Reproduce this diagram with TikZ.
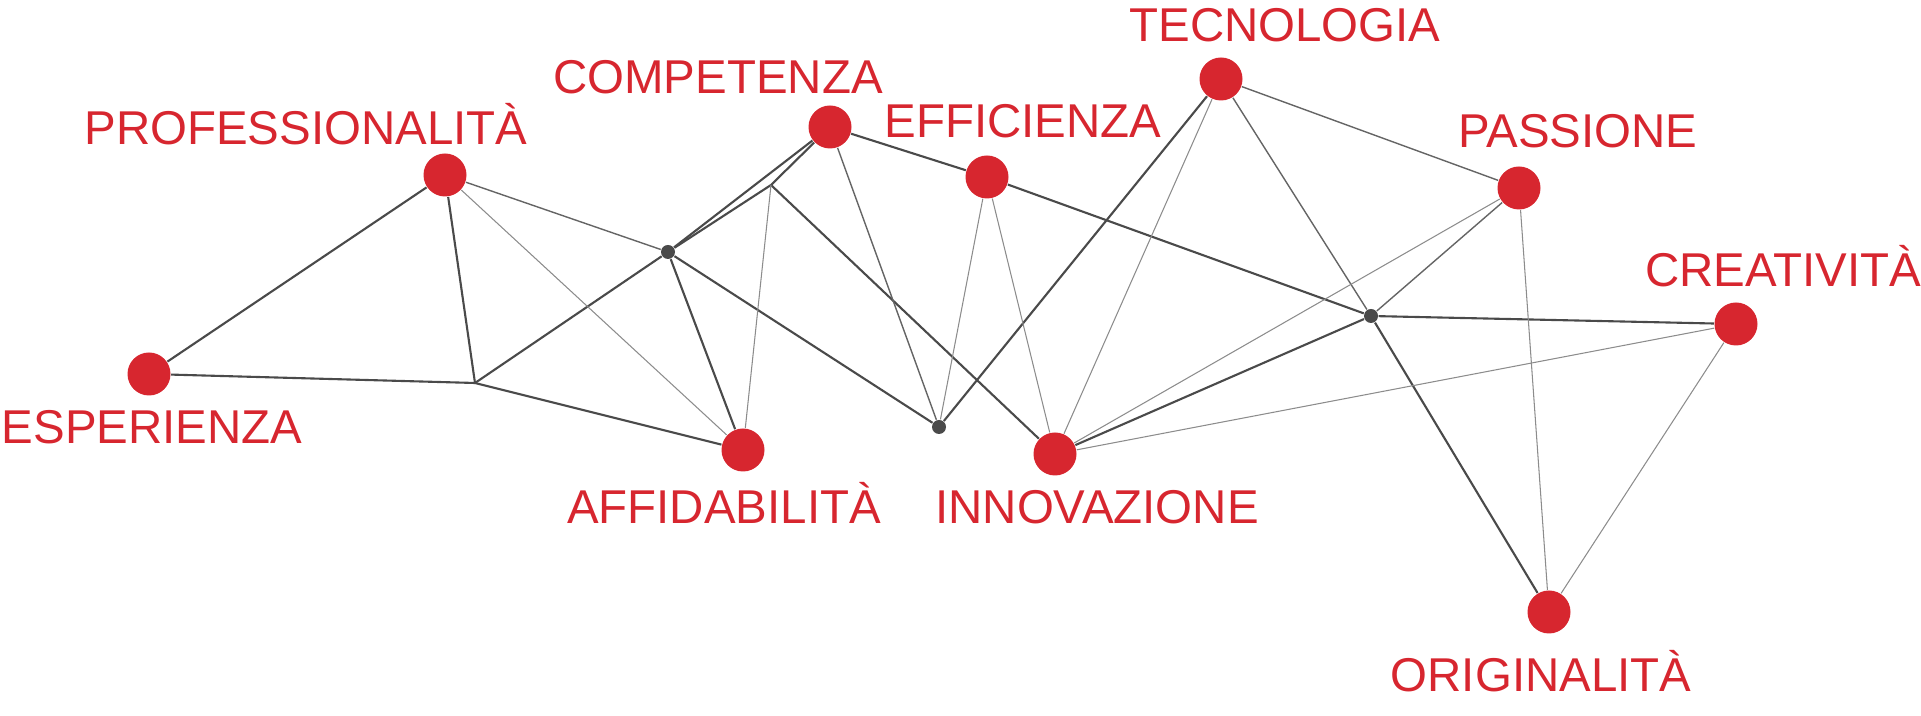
\documentclass[tikz,border=0pt]{standalone}
\usepackage{fontspec}
\setmainfont{Liberation Sans}
\usetikzlibrary{shapes}
\definecolor{dotred}{HTML}{D7262F}
\definecolor{linegray}{HTML}{4A4A4A}
\definecolor{lightgray}{HTML}{8C8C8C}

\begin{document}
\begin{tikzpicture}[dot/.style={shape=circle,fill=dotred,inner sep=0pt,minimum size=0.43cm},
        hub/.style={shape=circle,fill=linegray,inner sep=0pt,minimum size=0.14cm},
        word/.style={text=dotred,inner sep=0pt,anchor=base,font=\fontsize{13.5}{16}\selectfont},
        thick line/.style={draw=linegray,line width=0.6pt},
        mid line/.style={draw=linegray!85,line width=0.4pt},
        thin line/.style={draw=lightgray,line width=0.3pt}]
            \useasboundingbox (0, 0) rectangle (19.21, 7.16);
            \node[dot](P)at(4.45, 5.41){};
            \node[dot](E)at(1.49, 3.42){};
            \node[dot](C)at(8.30, 5.89){};
            \node[dot](F)at(9.87, 5.39){};
            \node[dot](T)at(12.21, 6.37){};
            \node[dot](S)at(15.19, 5.28){};
            \node[dot](R)at(17.36, 3.92){};
            \node[dot](O)at(15.49, 1.04){};
            \node[dot](A)at(7.43, 2.66){};
            \node[dot](I)at(10.55, 2.62){};
            \node[hub](h1)at(6.68, 4.64){};
            \node[hub](h2)at(9.39, 2.89){};
            \node[hub](h3)at(13.71, 4.00){};
            \coordinate(k1)at(4.75, 3.33);
            \coordinate(k2)at(7.71, 5.31);
            \node[word](Pl)at(3.06, 5.71){PROFESSIONALITÀ};
            \node[word](El)at(1.52, 2.72){ESPERIENZA};
            \node[word](Cl)at(7.18, 6.22){COMPETENZA};
            \node[word](Fl)at(10.23, 5.78){EFFICIENZA};
            \node[word](Tl)at(12.85, 6.74){TECNOLOGIA};
            \node[word](Sl)at(15.78, 5.68){PASSIONE};
            \node[word](Rl)at(17.83, 4.29){CREATIVITÀ};
            \node[word](Ol)at(15.41, 0.24){ORIGINALITÀ};
            \node[word](Al)at(7.24, 1.92){AFFIDABILITÀ};
            \node[word](Il)at(10.97, 1.92){INNOVAZIONE};
            \path[thick line](P) edge (E)
            (E) edge (k1)
            (P) edge (k1)
            (k1) edge (h1)
            (k1) edge (A)
            (h1) edge (C)
            (h1) edge (k2)
            (k2) edge (C)
            (h1) edge (A)
            (h1) edge (h2)
            (C) edge (F)
            (F) edge (h3)
            (k2) edge (I)
            (T) edge (h2)
            (h3) edge (I)
            (h3) edge (R)
            (h3) edge (O);
            \path[mid line](P) edge (h1)
            (T) edge (S)
            (h3) edge (S)
            (T) edge (h3)
            (C) edge (h2);
            \path[thin line](P) edge (A)
            (k2) edge (A)
            (F) edge (h2)
            (F) edge (I)
            (T) edge (I)
            (I) edge (S)
            (I) edge (R)
            (S) edge (O)
            (R) edge (O);
        \end{tikzpicture}
\end{document}
